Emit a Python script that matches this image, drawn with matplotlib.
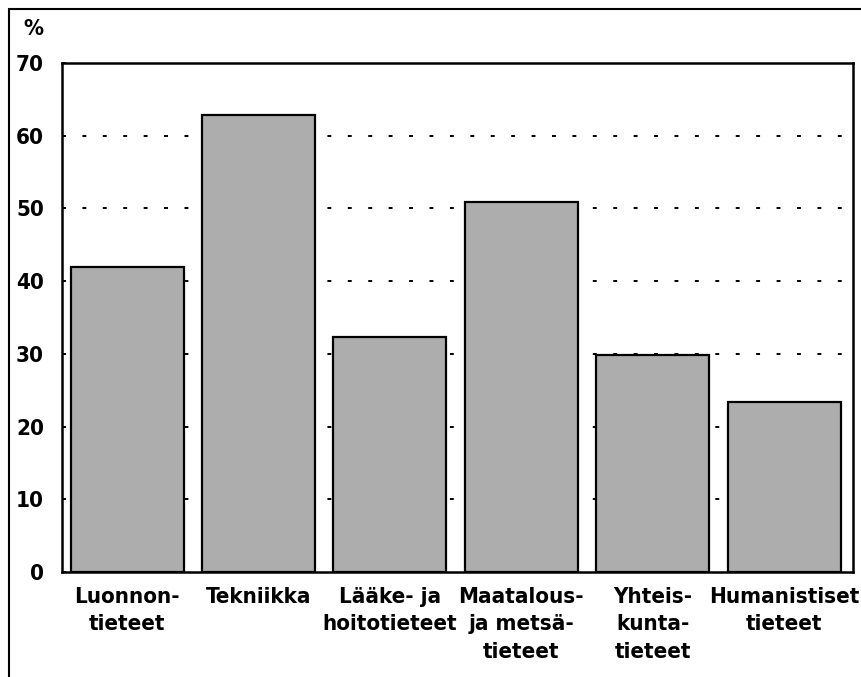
import matplotlib
matplotlib.use("Agg")
import matplotlib.pyplot as plt
from matplotlib.patches import Rectangle

# values (%)
categories = ["Luonnon-\ntieteet", "Tekniikka", "Lääke- ja\nhoitotieteet",
              "Maatalous-\nja metsä-\ntieteet", "Yhteis-\nkunta-\ntieteet",
              "Humanistiset\ntieteet"]
values = [42.0, 62.8, 32.3, 50.9, 29.8, 23.4]
yticks = [0, 10, 20, 30, 40, 50, 60, 70]

plt.rcParams['font.family'] = ['DejaVu Sans']
plt.rcParams['font.stretch'] = 'condensed'
plt.rcParams['font.weight'] = 'bold'

fig = plt.figure(figsize=(8.61, 6.77), dpi=100)
ax = fig.add_axes([62/861, 1 - 572/677, (853 - 62)/861, (572 - 63)/677])

x = list(range(len(categories)))
ax.bar(x, values, width=0.86, color='#adadad', edgecolor='black',
       linewidth=1.6, zorder=3)

ax.set_xlim(-0.495, 5.525)
ax.set_ylim(0, 70)
ax.set_yticks(yticks)
ax.set_yticklabels([str(t) for t in yticks], fontsize=16)
ax.set_xticks(x)
ax.set_xticklabels(categories, fontsize=16, linespacing=1.45, va='top')
ax.tick_params(axis='y', direction='in', length=3, width=1.2, pad=13)
ax.tick_params(axis='x', length=0, pad=11)

for t in yticks[1:-1]:
    ax.axhline(t, color='black', linestyle=(0, (2, 8.5)), linewidth=1.4, zorder=1)

for s in ax.spines.values():
    s.set_linewidth(1.8)

fig.text(43/861, 1 - 29/677, "%", fontsize=16, ha='right', va='center')

# outer frame (only left and top edges lie inside the picture)
frame = Rectangle((9/861, -0.1), 1.2, 1 - 9/677 + 0.1, transform=fig.transFigure,
                  fill=False, edgecolor='black', linewidth=1.5)
fig.patches.append(frame)

fig.savefig("out.png", dpi=100)
